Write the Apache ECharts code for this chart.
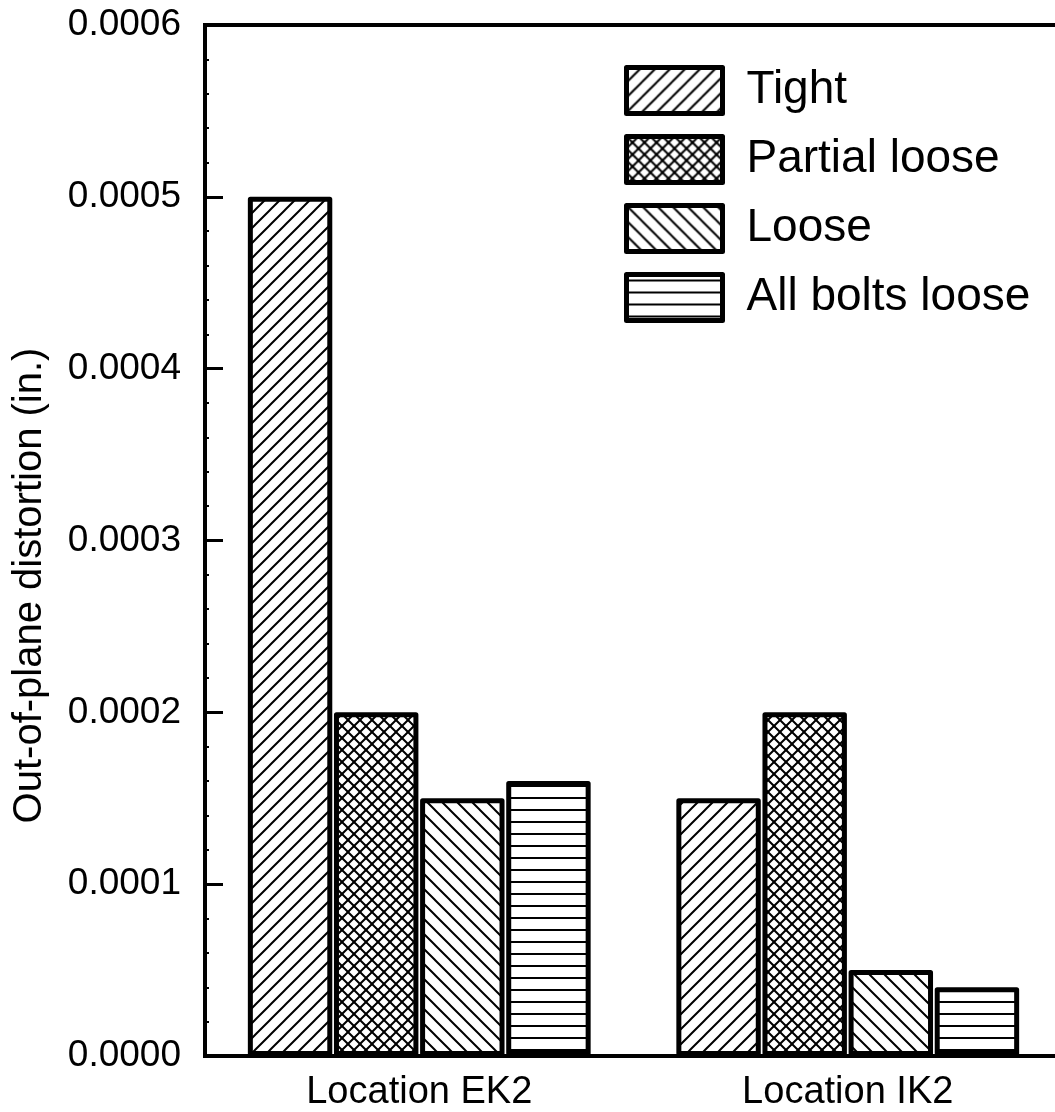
<!DOCTYPE html>
<html>
<head>
<meta charset="utf-8">
<script src="https://cdn.jsdelivr.net/npm/echarts@6/dist/echarts.min.js"></script>
<style>
  html, body { margin: 0; padding: 0; background: #fff; overflow: hidden; }
  /* plot runs a little past the right edge of the window, like the original */
  #chart { width: 1062px; height: 1112px; }
</style>
</head>
<body>
<div id="chart"></div>
<script>
// data
const categories = ['Location EK2', 'Location IK2'];
const seriesNames = ['Tight', 'Partial loose', 'Loose', 'All bolts loose'];
const tight = [0.0005, 0.00015];
const partialLoose = [0.0002, 0.0002];
const loose = [0.00015, 0.00005];
const allBoltsLoose = [0.00016, 0.00004];
const yTicks = [0, 0.0001, 0.0002, 0.0003, 0.0004, 0.0005, 0.0006];

// hatch patterns
const makePattern = (kind, s) => {
    const c = document.createElement('canvas');
    c.width = s; c.height = s;
    const g = c.getContext('2d');
    g.fillStyle = '#fff';
    g.fillRect(0, 0, s, s);
    g.strokeStyle = '#000';
    g.lineWidth = 2;
    const fwd = () => {
        g.beginPath();
        g.moveTo(-2, s + 2); g.lineTo(s + 2, -2);
        g.moveTo(-2, 2); g.lineTo(2, -2);
        g.moveTo(s - 2, s + 2); g.lineTo(s + 2, s - 2);
        g.stroke();
    };
    const back = () => {
        g.beginPath();
        g.moveTo(-2, -2); g.lineTo(s + 2, s + 2);
        g.moveTo(s - 2, -2); g.lineTo(s + 2, 2);
        g.moveTo(-2, s - 2); g.lineTo(2, s + 2);
        g.stroke();
    };
    if (kind === 'fwd') fwd();
    if (kind === 'back') back();
    if (kind === 'cross') { fwd(); back(); }
    if (kind === 'horiz') {
        g.beginPath();
        g.moveTo(0, s / 2); g.lineTo(s, s / 2);
        g.stroke();
    }
    return { image: c, repeat: 'repeat' };
};

const patterns = [
    makePattern('fwd', 15),
    makePattern('cross', 12),
    makePattern('back', 15),
    makePattern('horiz', 12)
];
const values = [tight, partialLoose, loose, allBoltsLoose];

const chart = echarts.init(document.getElementById('chart'));

const font = 'Liberation Sans, Arial, sans-serif';

chart.setOption({
    animation: false,
    backgroundColor: '#fff',
    textStyle: { fontFamily: font, color: '#000' },
    grid: {
        left: 205, top: 25, bottom: 56, right: 0,
        show: true, borderColor: '#000', borderWidth: 4,
        containLabel: false
    },
    legend: {
        orient: 'vertical',
        left: 624, top: 65,
        padding: 0,
        itemWidth: 96, itemHeight: 46,
        itemGap: 18,
        icon: 'rect',
        itemStyle: { borderColor: '#000', borderWidth: 5 },
        textStyle: {
            fontSize: 46, lineHeight: 46, fontFamily: font, color: '#000',
            padding: [0, 0, 0, 19]
        },
        data: seriesNames
    },
    xAxis: {
        type: 'category',
        data: categories,
        axisLine: { lineStyle: { color: '#000', width: 4 } },
        axisTick: { show: false },
        axisLabel: { fontSize: 38, color: '#000', margin: 18, fontFamily: font }
    },
    yAxis: {
        type: 'value',
        min: yTicks[0],
        max: yTicks[yTicks.length - 1],
        interval: 0.0001,
        name: 'Out-of-plane distortion (in.)',
        nameLocation: 'middle',
        nameGap: 155,
        nameTextStyle: {
            fontSize: 40, color: '#000', fontFamily: font,
            padding: [0, 90, 0, 0]
        },
        axisLine: { show: true, lineStyle: { color: '#000', width: 4 } },
        axisTick: { show: true, inside: true, length: 18, lineStyle: { color: '#000', width: 3 } },
        minorTick: { show: true, splitNumber: 5, length: 4, lineStyle: { color: '#000', width: 2 } },
        splitLine: { show: false },
        axisLabel: {
            fontSize: 37, color: '#000', margin: 24, fontFamily: font,
            formatter: v => v.toFixed(4)
        }
    },
    series: seriesNames.map((name, i) => ({
        name: name,
        type: 'bar',
        data: values[i],
        barGap: '2%',
        barCategoryGap: '20%',
        itemStyle: {
            color: patterns[i],
            borderColor: '#000',
            borderWidth: 5,
            borderJoin: 'round'
        }
    }))
});
</script>
</body>
</html>
